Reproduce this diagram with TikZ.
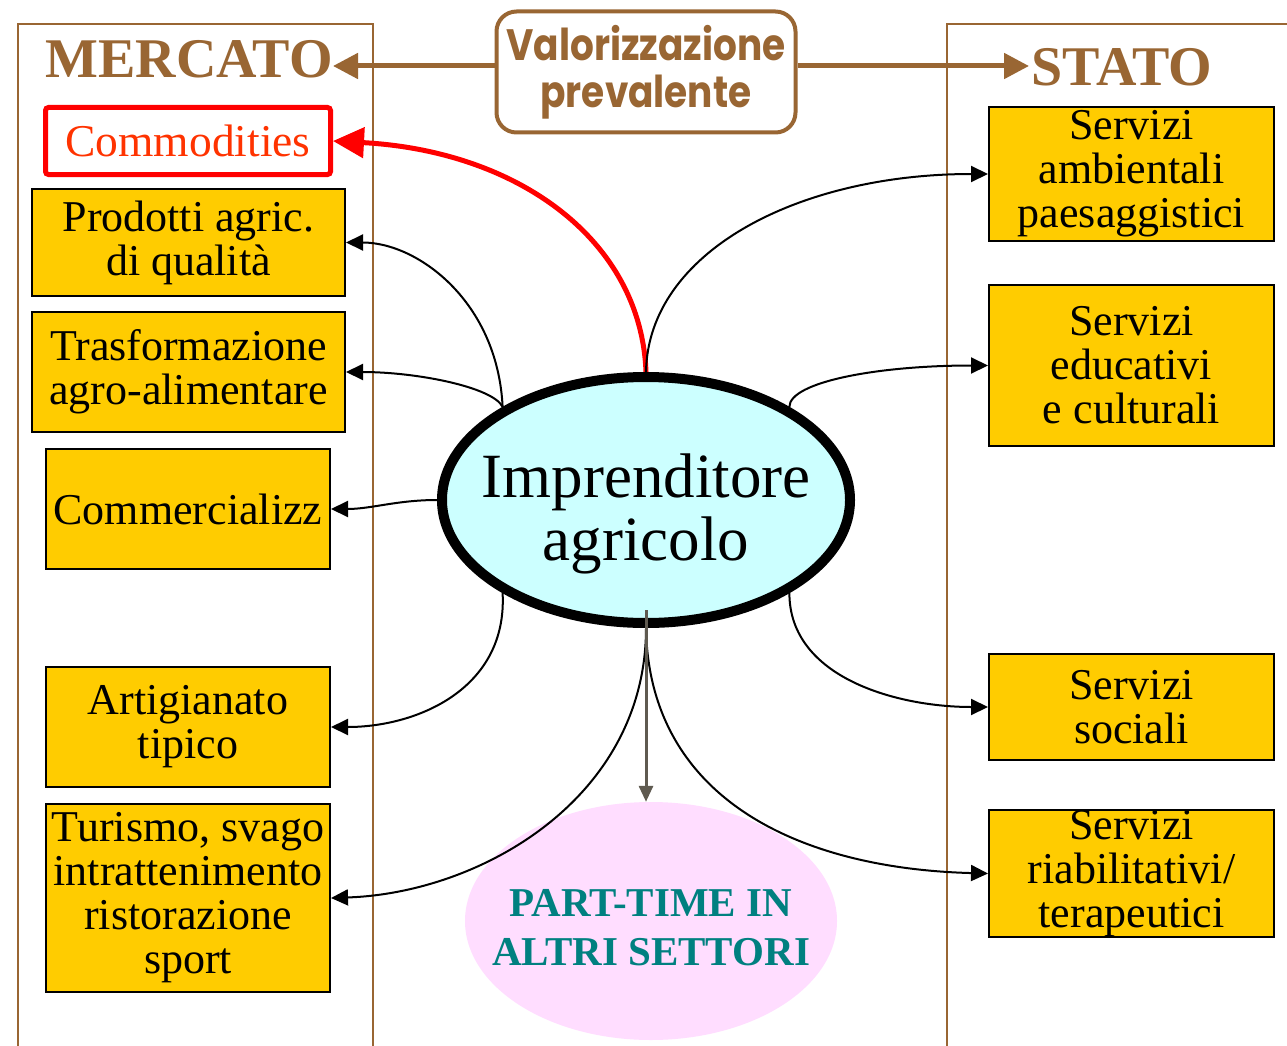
\documentclass[tikz,border=0pt]{standalone}
\usepackage{graphicx}
\usepackage{fontspec}
\setmainfont{Liberation Serif}
\newfontfamily\comicf{Poppins}
\usetikzlibrary{arrows.meta,shapes.geometric}
\definecolor{brownc}{HTML}{996633}
\definecolor{yellowc}{HTML}{FFCC00}
\definecolor{cyanc}{HTML}{CCFFFF}
\definecolor{pinkc}{HTML}{FFDDFF}
\definecolor{tealc}{HTML}{008080}
\definecolor{commtext}{HTML}{FF3300}
\definecolor{grayarrc}{HTML}{5F5A50}
\newcommand{\valstretch}[1]{\scalebox{1.04}[1.22]{#1}}
\begin{document}
\begin{tikzpicture}[x=1pt,y=-1pt,
  panel/.style={draw=brownc,line width=2},
  titlet/.style={text=brownc,font=\bfseries\fontsize{56}{56}\selectfont,inner sep=0},
  valbox/.style={draw=brownc,line width=4,rounded corners=20,minimum width=299,minimum height=121,inner sep=0,align=center,text=brownc,font=\comicf\bfseries\fontsize{36}{47}\selectfont},
  brownarr/.style={draw=brownc,line width=5,-{Triangle[length=25pt,width=25pt]}},
  ybox/.style={draw=black,line width=2,fill=yellowc,inner sep=0,align=center,font=\fontsize{44}{44}\selectfont},
  commbox/.style={draw=red,line width=5,rounded corners=3,fill=white,inner sep=0,text=commtext,font=\fontsize{45.5}{45.5}\selectfont},
  blkarr/.style={draw=black,line width=2,-{Triangle[length=17pt,width=16pt]}},
  redarr/.style={draw=red,line width=5,-{Triangle[length=31pt,width=30pt]}},
  grayarr/.style={draw=grayarrc,line width=3,-{Triangle[length=16pt,width=14pt]}}
]
\useasboundingbox (0,0) rectangle (1287,1046);
\fill[white] (0,0) rectangle (1287,1046);

% panels
\draw[panel] (18,1046) -- (18,24) -- (373,24) -- (373,1046);
\draw[panel] (947,1046) -- (947,24) -- (1287,24);

% top
\node[valbox] (val) at (646,72) {\valstretch{Valorizzazione}\\\valstretch{prevalente}};
\node[titlet,anchor=base] (merc) at (189,78) {MERCATO};
\node[titlet,anchor=base] (stato) at (1122,86) {STATO};
\coordinate (mtip) at (333,66);
\coordinate (stip) at (1029,66);
\draw[brownarr] (val.west |- mtip) -- (mtip);
\draw[brownarr] (val.east |- stip) -- (stip);

% left boxes
\node[commbox,minimum width=285,minimum height=67] (comm) at (188,141) {Commodities};
\node[ybox,minimum width=313,minimum height=107] (prod) at (188.5,242.5) {Prodotti agric.\\di qualità};
\node[ybox,minimum width=313,minimum height=120] (tras) at (188.5,372) {Trasformazione\\agro-alimentare};
\node[ybox,minimum width=284,minimum height=120] (comz) at (188,509) {Commercializz};
\node[ybox,minimum width=284,minimum height=120] (art) at (188,727) {Artigianato\\tipico};
\node[ybox,minimum width=284,minimum height=188] (tur) at (188,898) {Turismo, svago\\intrattenimento\\ristorazione\\sport};

% right boxes
\node[ybox,minimum width=285,minimum height=134] (amb) at (1131.5,174) {Servizi\\ambientali\\paesaggistici};
\node[ybox,minimum width=285,minimum height=161] (edu) at (1131.5,365.5) {Servizi\\educativi\\e culturali};
\node[ybox,minimum width=285,minimum height=106] (soc) at (1131.5,707) {Servizi\\sociali};
\node[ybox,minimum width=285,minimum height=123] (ria) at (1131.5,873.5) {Servizi\\riabilitativi/\\terapeutici};

% ellipses
\node[ellipse,fill=pinkc,minimum width=372,minimum height=238,inner sep=0] (pt) at (651,921) {};
\node[text=tealc,font=\bfseries\fontsize{41}{49}\selectfont,align=center,inner sep=0] (ptt) at (651,928) {PART-TIME IN\\ALTRI SETTORI};

% connectors
\draw[redarr] (646,372) .. controls +(-5,-132) and +(185,10) .. (comm.east);
\node[ellipse,draw=black,line width=10,fill=cyanc,minimum width=408,minimum height=246,inner sep=0] (ell) at (646,500) {};
\node[font=\fontsize{63}{63}\selectfont,align=center,inner sep=0] (ellt) at (646,514) {Imprenditore\\agricolo};

\draw[blkarr] (ell.147) .. controls +(-5,-105) and +(72,0) .. (prod.east);
\draw[blkarr] (ell.147) .. controls +(-10,-20) and +(70,0) .. (tras.east);
\draw[blkarr] (ell.west) .. controls +(-40,0) and +(40,0) .. (comz.east);
\draw[blkarr] (ell.213) .. controls +(5,95) and +(87,0) .. (art.east);
\draw[blkarr] (ell.south) .. controls +(0,170) and +(150,-5) .. (tur.east);
\draw[blkarr] (ell.north) .. controls +(2,-120) and +(-190,0) .. (amb.west);
\draw[blkarr] (ell.33) .. controls +(0,-25) and +(-110,0) .. (edu.west);
\draw[blkarr] (ell.-33) .. controls +(0,85) and +(-90,0) .. (soc.west);
\draw[blkarr] (ell.south) .. controls +(3,170) and +(-190,-5) .. (ria.west);
\draw[grayarr] ([yshift=18pt]ell.south) -- (ell.south |- pt.north);
\end{tikzpicture}
\end{document}
